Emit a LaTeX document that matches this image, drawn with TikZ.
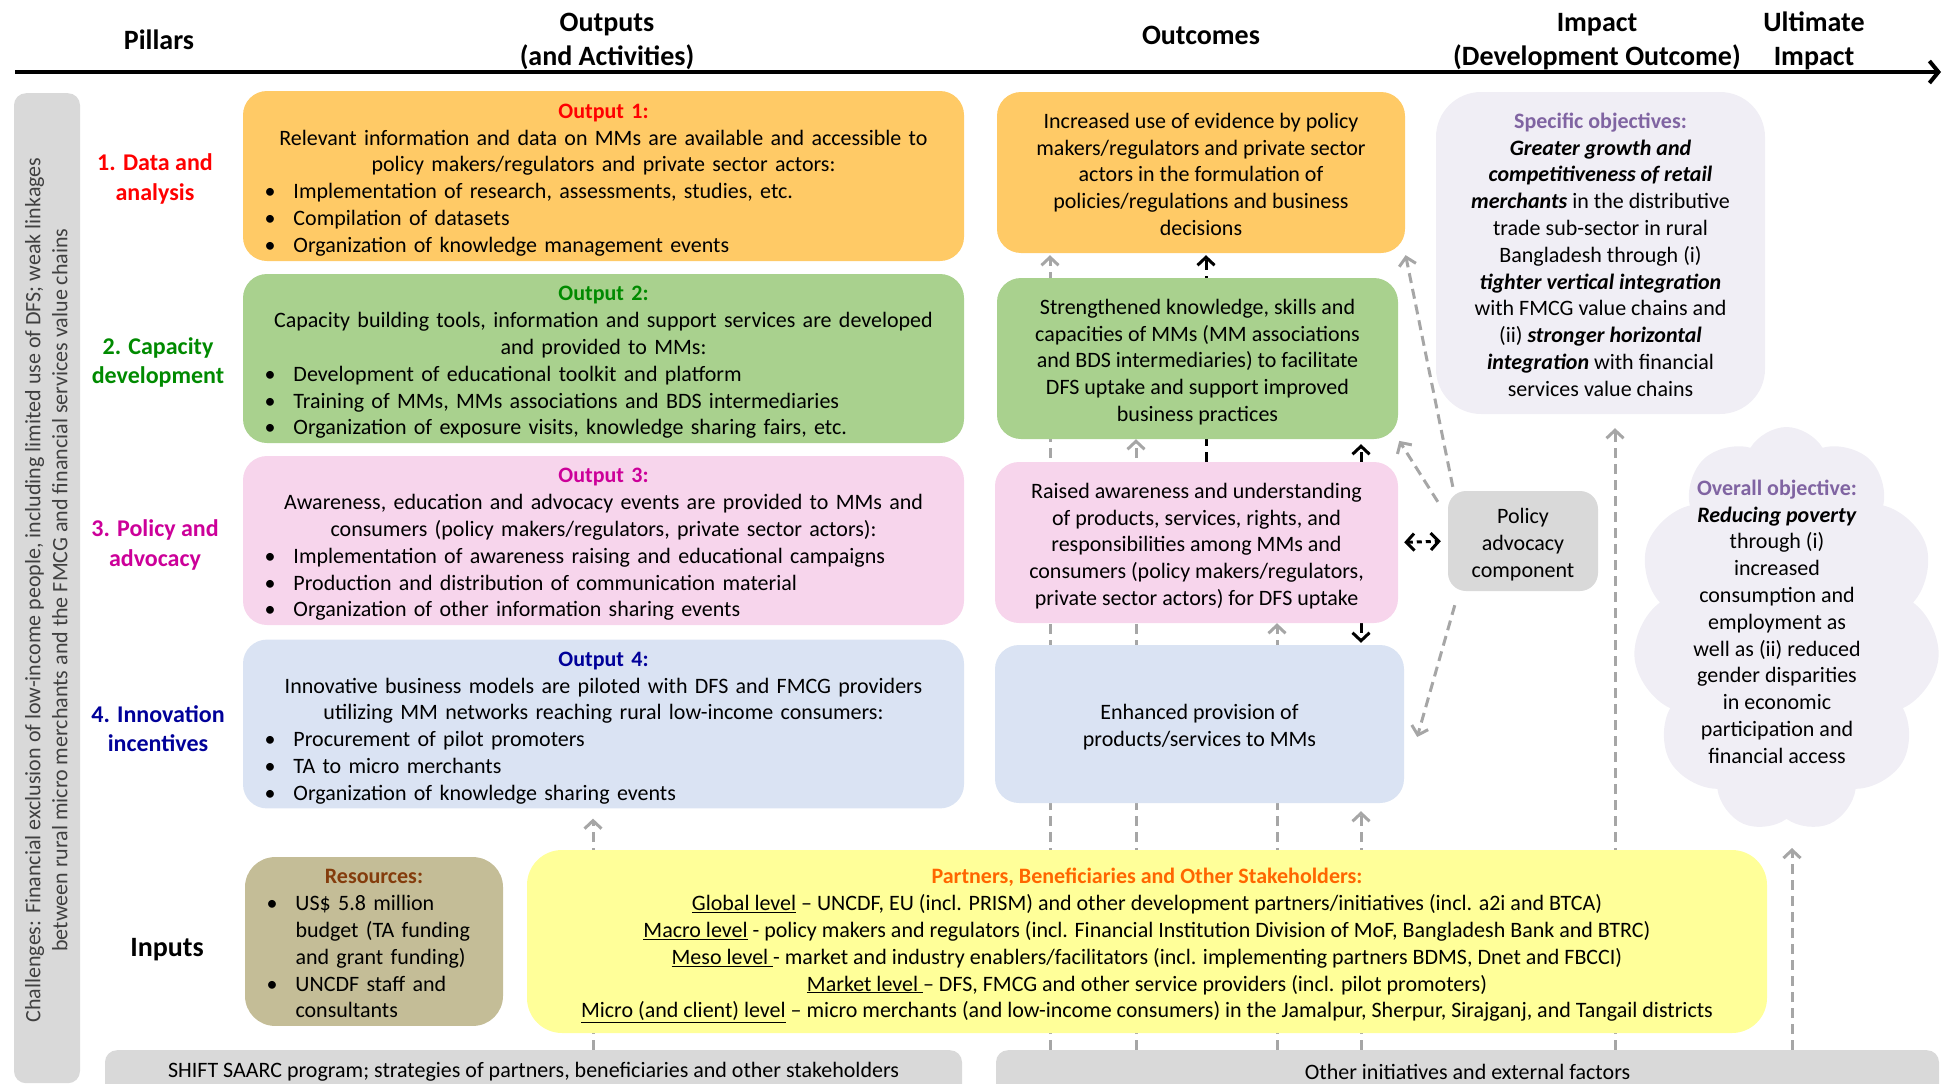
\documentclass[tikz,border=0pt]{standalone}
\usepackage{fontspec}
\setmainfont{Carlito}
\usetikzlibrary{shapes.symbols,arrows.meta}
\definecolor{cOr}{HTML}{FFCA66}
\definecolor{cGr}{HTML}{A9D18E}
\definecolor{cPk}{HTML}{F7D5EC}
\definecolor{cBl}{HTML}{DAE3F3}
\definecolor{cLav}{HTML}{F0EEF5}
\definecolor{cGray}{HTML}{D9D9D9}
\definecolor{cKhaki}{HTML}{C4BD97}
\definecolor{cYel}{HTML}{FFFF99}
\definecolor{cArr}{HTML}{A6A6A6}
\definecolor{tRed}{HTML}{FF0000}
\definecolor{tGreen}{HTML}{008A00}
\definecolor{tMag}{HTML}{CC0099}
\definecolor{tBlue}{HTML}{000099}
\definecolor{tPurp}{HTML}{8064A2}
\definecolor{tBrown}{HTML}{843C0C}
\definecolor{tOrange}{HTML}{FF6600}
\newcommand\fbody{\fontsize{22pt}{26.8pt}\selectfont}
\newcommand\fhead{\fontsize{28pt}{34pt}\selectfont\bfseries}
\newcommand\fpil{\fontsize{24pt}{29.3pt}\selectfont\bfseries}
\newcommand\bitem{\hspace*{11.5pt}\makebox[29pt][l]{\textbullet}}
\newcommand\bcont{\hspace*{40.5pt}}
\newcommand\tstrut{\rule{0pt}{26.8pt}}
\pgfdeclarelayer{bg}
\pgfsetlayers{bg,main}
\begin{document}
\begin{tikzpicture}[x=1pt,y=-1pt,
  box/.style={inner ysep=0pt, inner xsep=10pt, rounded corners=24pt, font=\fbody},
  obox/.style={box, minimum width=721pt, minimum height=169pt, text width=701pt},
  ocbox/.style={box, align=center},
  bar/.style={fill=cGray, rounded corners=12pt, inner sep=0pt, minimum height=80pt, anchor=north},
  hd/.style={font=\fhead, align=center, inner sep=0pt},
  pil/.style={font=\fpil, align=center, inner sep=0pt},
  txt/.style={font=\fbody, align=center, inner sep=0pt},
  garr/.style={draw=cArr, line width=3pt, dash pattern=on 10pt off 6pt, -{Straight Barb[length=8pt,width=17pt]}},
  barr/.style={garr, draw=black}]
\useasboundingbox (0,0) rectangle (1944,1084);

% header
\coordinate (ax0) at (15,72);
\coordinate (ax1) at (1941,72);
\draw[line width=4pt, -{Straight Barb[length=9pt,width=22pt]}] (ax0) -- (ax1);
\node[hd] (hpil) at (159,40) {Pillars};
\node[hd] (hout) at (607,42) {\strut Outputs\\(and Activities)\strut};
\node[hd] (hoc) at (1201,35) {Outcomes};
\node[hd] (himp) at (1597,42) {\strut Impact\\(Development Outcome)\strut};
\node[hd] (hult) at (1814,42) {\strut Ultimate\\Impact\strut};

% challenges
\node[fill=cGray, rounded corners=12pt, minimum width=66pt, minimum height=990pt, anchor=north, inner sep=0pt] (chal) at (47,93) {};
\node[txt, rotate=90, text=black!75] (chaltxt) at (48.5,590) {\strut Challenges: Financial exclusion of low-income people, including limited use of DFS; weak linkages\\between rural micro merchants and the FMCG and financial services value chains\strut};

% pillars
\node[pil, text=tRed] (p1) at (155,179.5) {\strut 1. Data and\\analysis\strut};
\node[pil, text=tGreen] (p2) at (158,363) {\strut 2. Capacity\\development\strut};
\node[pil, text=tMag] (p3) at (155,545.5) {\strut 3. Policy and\\advocacy\strut};
\node[pil, text=tBlue] (p4) at (158,731) {\strut 4. Innovation\\incentives\strut};

% outputs
\node[obox, fill=cOr, minimum height=170pt] (out1) at (603.5,176) {\centering\tstrut{\color{tRed}\bfseries Output 1:}\\
Relevant information and data on MMs are available and accessible to\\
policy makers/regulators and private sector actors:\par\raggedright
\bitem Implementation of research, assessments, studies, etc.\\
\bitem Compilation of datasets\\
\bitem Organization of knowledge management events\strut};
\node[obox, fill=cGr] (out2) at (603.5,358.5) {\centering\tstrut{\color{tGreen}\bfseries Output 2:}\\
Capacity building tools, information and support services are developed\\
and provided to MMs:\par\raggedright
\bitem Development of educational toolkit and platform\\
\bitem Training of MMs, MMs associations and BDS intermediaries\\
\bitem Organization of exposure visits, knowledge sharing fairs, etc.\strut};
\node[obox, fill=cPk] (out3) at (603.5,540.5) {\centering\tstrut{\color{tMag}\bfseries Output 3:}\\
Awareness, education and advocacy events are provided to MMs and\\
consumers (policy makers/regulators, private sector actors):\par\raggedright
\bitem Implementation of awareness raising and educational campaigns\\
\bitem Production and distribution of communication material\\
\bitem Organization of other information sharing events\strut};
\node[obox, fill=cBl, minimum height=168pt] (out4) at (603.5,724) {\centering\tstrut{\color{tBlue}\bfseries Output 4:}\\
Innovative business models are piloted with DFS and FMCG providers\\
utilizing MM networks reaching rural low-income consumers:\par\raggedright
\bitem Procurement of pilot promoters\\
\bitem TA to micro merchants\\
\bitem Organization of knowledge sharing events\strut};

% outcomes
\node[ocbox, fill=cOr, minimum width=408pt, minimum height=161pt] (oc1) at (1201,172.5) {\tstrut Increased use of evidence by policy\\makers/regulators and private sector\\actors in the formulation of\\policies/regulations and business\\decisions\strut};
\node[ocbox, fill=cGr, minimum width=401pt, minimum height=161pt] (oc2) at (1197.5,358.5) {\tstrut Strengthened knowledge, skills and\\capacities of MMs (MM associations\\and BDS intermediaries) to facilitate\\DFS uptake and support improved\\business practices\strut};
\node[ocbox, fill=cPk, minimum width=403pt, minimum height=161pt] (oc3) at (1196.5,542.5) {\tstrut Raised awareness and understanding\\of products, services, rights, and\\responsibilities among MMs and\\consumers (policy makers/regulators,\\private sector actors) for DFS uptake\strut};
\node[ocbox, fill=cBl, minimum width=409pt, minimum height=158pt] (oc4) at (1199.5,724) {\tstrut Enhanced provision of\\products/services to MMs\strut};

% impact
\node[ocbox, fill=cLav, rounded corners=45pt, minimum width=329pt, minimum height=322pt] (spec) at (1600.5,253) {\tstrut{\color{tPurp}\bfseries Specific objectives:}\\
\textbf{\textit{Greater growth and}}\\
\textbf{\textit{competitiveness of retail}}\\
\textbf{\textit{merchants}} in the distributive\\
trade sub-sector in rural\\
Bangladesh through (i)\\
\textbf{\textit{tighter vertical integration}}\\
with FMCG value chains and\\
(ii) \textbf{\textit{stronger horizontal}}\\
\textbf{\textit{integration}} with financial\\
services value chains\strut};
\node[ocbox, fill=cGray, rounded corners=18pt, minimum width=150pt, minimum height=100pt] (pol) at (1523,541) {\tstrut Policy\\advocacy\\component\strut};

% ultimate impact
\node[cloud, cloud puffs=11, cloud puff arc=120, cloud ignores aspect, minimum width=307pt, minimum height=405pt, fill=cLav, inner sep=0pt] (cl) at (1786.5,629.5) {};
\node[txt] (cltxt) at (1777,624) {\strut{\color{tPurp}\bfseries Overall objective:}\\
\textbf{\textit{Reducing poverty}}\\
through (i)\\increased\\consumption and\\employment as\\well as (ii) reduced\\gender disparities\\in economic\\participation and\\financial access\strut};

% inputs
\node[hd] (inputs) at (167,950) {Inputs};
\node[box, fill=cKhaki, rounded corners=30pt, minimum width=258pt, minimum height=165pt, text width=238pt] (res) at (374,941.5) {\centering\tstrut{\color{tBrown}\bfseries Resources:}\par\raggedright
\bitem US\$ 5.8 million\\
\bcont budget (TA funding\\
\bcont and grant funding)\\
\bitem UNCDF staff and\\
\bcont consultants\strut};
\node[ocbox, fill=cYel, rounded corners=35pt, minimum width=1240pt, minimum height=183pt] (part) at (1147,941.5) {\tstrut{\color{tOrange}\bfseries Partners, Beneficiaries and Other Stakeholders:}\\
\underline{Global level} – UNCDF, EU (incl. PRISM) and other development partners/initiatives (incl. a2i and BTCA)\\
\underline{Macro level} - policy makers and regulators (incl. Financial Institution Division of MoF, Bangladesh Bank and BTRC)\\
\underline{Meso level }- market and industry enablers/facilitators (incl. implementing partners BDMS, Dnet and FBCCI)\\
\underline{Market level }– DFS, FMCG and other service providers (incl. pilot promoters)\\
\underline{Micro (and client) level} – micro merchants (and low-income consumers) in the Jamalpur, Sherpur, Sirajganj, and Tangail districts\strut};

% bottom bars
\node[bar, minimum width=857pt] (shift) at (533.5,1050) {};
\node[txt] (shifttxt) at (533.5,1072) {SHIFT SAARC program; strategies of partners, beneficiaries and other stakeholders};
\node[bar, minimum width=943pt] (other) at (1467.5,1050) {};
\node[txt] (othertxt) at (1467.5,1072) {Other initiatives and external factors};

% connectors
\coordinate (x593) at (593,0);
\coordinate (x1050) at (1050,0);
\coordinate (x1136) at (1136,0);
\coordinate (x1206) at (1206,0);
\coordinate (x1277) at (1277,0);
\coordinate (x1361) at (1361,0);
\coordinate (x1615) at (1615,0);
\coordinate (x1792) at (1792,0);
\coordinate (cloudtip) at (1792,848);
\begin{pgfonlayer}{bg}
\draw[garr, shorten >=10pt] (shift.north -| x593) -- (out4.south -| x593);
\draw[garr, shorten >=2pt] (other.north -| x1050) -- (oc1.south -| x1050);
\draw[garr] (other.north -| x1136) -- (oc2.south -| x1136);
\draw[garr] (other.north -| x1277) -- (oc3.south -| x1277);
\draw[garr, shorten >=8pt] (other.north -| x1361) -- (oc4.south -| x1361);
\draw[garr, shorten >=14pt] (other.north -| x1615) -- (spec.south -| x1615);
\draw[garr] (other.north -| x1792) -- (cloudtip);
\draw[barr, shorten >=2pt] (oc3.north -| x1206) -- (oc1.south -| x1206);
\draw[barr, shorten >=5pt] (oc3.north -| x1361) -- (oc2.south -| x1361);
\draw[barr, shorten >=2pt] (oc3.south -| x1361) -- (oc4.north -| x1361);
\draw[barr, {Straight Barb[length=8pt,width=17pt]}-{Straight Barb[length=8pt,width=17pt]}, dash pattern=on 5pt off 4pt, shorten <=6pt, shorten >=7pt] (oc3.east) -- (pol.west);
\draw[garr, shorten >=2pt] ([xshift=5pt,yshift=4pt]pol.north west) -- (oc1.south east);
\draw[garr, shorten >=2pt] ([xshift=-10pt,yshift=-11pt]pol.north west) -- (oc2.south east);
\draw[garr] ([xshift=7pt,yshift=-14pt]pol.south west) -- ([xshift=13pt,yshift=-13pt]oc4.east);
\end{pgfonlayer}
\end{tikzpicture}
\end{document}
